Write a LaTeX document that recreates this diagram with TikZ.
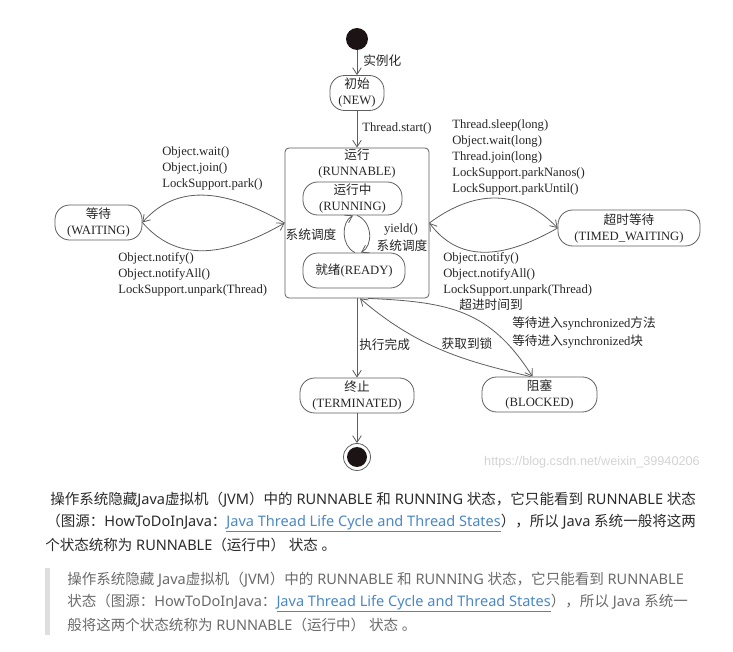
\documentclass[tikz,border=0pt]{standalone}
\usepackage{fontspec}
\setmainfont{Liberation Serif}
\newfontfamily\cjk{Noto Sans CJK SC}
\newfontfamily\capsans{Noto Sans}
\newfontfamily\wmfont{Liberation Sans}
\usetikzlibrary{arrows.meta,calc}
\newcommand\zh[1]{{\cjk #1}}
\definecolor{ln}{HTML}{5E5E5E}
\definecolor{tx}{HTML}{262626}
\definecolor{linkc}{HTML}{4A88C8}
\definecolor{capc}{HTML}{2B2B2B}
\definecolor{quotec}{HTML}{6B6B6B}
\definecolor{barc}{HTML}{DEDEDE}
\definecolor{dot}{HTML}{1C1414}
\tikzset{
  sz/.style 2 args={minimum width=#1*0.75pt, minimum height=#2*0.75pt},
  state/.style={draw=ln, line width=0.6pt, rounded corners=11pt, align=center, inner sep=0pt},
  arr/.style={draw=ln, line width=0.6pt, -{Straight Barb[length=5pt,width=6.5pt]}},
  lbl/.style={inner sep=0pt, align=left},
  capline/.style={anchor=west, inner sep=0pt, font=\capsans\fontsize{10.9}{13}\selectfont}
}
\begin{document}
\begin{tikzpicture}[x=0.75pt,y=-0.75pt,
  font=\fontsize{9.5}{12}\selectfont, text=tx]
\fill[white] (0,0) rectangle (733,652);
\useasboundingbox (0,0) rectangle (733,652);

% states
\node[circle, fill=dot, minimum size=22*0.75pt, inner sep=0pt] (start) at (357,39) {};
\node[state, sz={54}{35}] (new) at (357,93) {\zh{初始}\\(NEW)};
\node[draw=ln, line width=0.6pt, rounded corners=3pt, sz={144}{150}, inner sep=0pt] (runnable) at (357,223) {};
\node[lbl, align=center] (runlbl) at (357,164) {\zh{运行}\\(RUNNABLE)};
\node[state, sz={99}{33}] (running) at (352.5,198.5) {\zh{运行中}\\(RUNNING)};
\node[state, sz={102}{35}] (ready) at (354,270.5) {\zh{就绪}(READY)};
\node[state, sz={87}{35}] (waiting) at (98.5,222.5) {\zh{等待}\\(WAITING)};
\node[state, sz={142}{36}] (timed) at (629,228) {\zh{超时等待}\\(TIMED\_WAITING)};
\node[state, sz={114}{35}] (term) at (357,395.5) {\zh{终止}\\(TERMINATED)};
\node[state, sz={115}{35}] (blocked) at (539.5,394.5) {\zh{阻塞}\\(BLOCKED)};
\node[circle, draw=ln, line width=0.6pt, minimum size=27*0.75pt, inner sep=0pt] (endo) at (357,457) {};
\node[circle, fill=dot, minimum size=20*0.75pt, inner sep=0pt] (endi) at (357,457) {};

% connectors
\draw[arr] (start) -- (new);
\draw[arr] (new) -- (runnable);
\draw[arr] (runnable) -- (term);
\draw[arr] (term) -- (endo);
\draw[arr] (runnable.west) .. controls (220,186) and (175,186) .. (waiting.east);
\draw[arr] (waiting.east) .. controls (175,260) and (220,260) .. (runnable.west);
\draw[arr] (runnable.east) .. controls (475,189) and (520,189) .. (timed.west);
\draw[arr] (timed.west) .. controls (500,261) and (458,261) .. (runnable.east);
\draw[arr] ($(ready.north)+(1,0)$) .. controls (341,246) and (341,222) .. ($(running.south)+(0.5,0)$);
\draw[arr] ($(running.south)+(4.5,0)$) .. controls (373,222) and (373,246) .. ($(ready.north)+(7,0)$);
\draw[arr] ($(runnable.south)+(11,0)$) .. controls (450,302) and (490,310) .. ($(blocked.north)+(-7,0)$);
\draw[arr] ($(blocked.north)+(-9,0)$) .. controls (470,362) and (420,350) .. ($(runnable.south)+(3,0)$);

% labels
\node[lbl, anchor=west] (linst) at (363,61) {\zh{实例化}};
\node[lbl, anchor=west] (lstart) at (362,128) {Thread.start()};
\node[lbl, anchor=west] (lwait) at (162,168) {Object.wait()\\Object.join()\\LockSupport.park()};
\node[lbl, anchor=west] (lnotify) at (118,274.5) {Object.notify()\\Object.notifyAll()\\LockSupport.unpark(Thread)};
\node[lbl, anchor=west] (lsleep) at (452,157.5) {Thread.sleep(long)\\Object.wait(long)\\Thread.join(long)\\LockSupport.parkNanos()\\LockSupport.parkUntil()};
\node[lbl, anchor=west] (ltnotify) at (443,274.5) {Object.notify()\\Object.notifyAll()\\LockSupport.unpark(Thread)};
\node[lbl] (lsched1) at (311,235) {\zh{系统调度}};
\node[lbl] (lyield) at (401,229) {yield()};
\node[lbl] (lsched2) at (402,246) {\zh{系统调度}};
\node[lbl, anchor=west] (ldone) at (359,345) {\zh{执行完成}};
\node[lbl] (ltimeout) at (491,305) {\zh{超进时间到}};
\node[lbl, anchor=west, font=\fontsize{9.5}{14}\selectfont] (lsync) at (512,332.5) {\zh{等待进入}synchronized\zh{方法}\\\zh{等待进入}synchronized\zh{块}};
\node[lbl] (llock) at (467,344) {\zh{获取到锁}};

% watermark
\node[inner sep=0pt, anchor=east, text=black!17, font=\wmfont\fontsize{9.5}{11}\selectfont] (wm) at (700,462) {https://blog.csdn.net/weixin\_39940206};

% caption
\node[capline, text=capc] (c1) at (50,500) {\zh{操作系统隐藏}Java\zh{虚拟机（}JVM\zh{）中的} RUNNABLE \zh{和} RUNNING \zh{状态，它只能看到} RUNNABLE \zh{状态}};
\node[capline, text=capc] (c2) at (46,523) {\zh{（图源：}HowToDoInJava\zh{：}\textcolor{linkc}{\underline{Java Thread Life Cycle and Thread States}}\zh{），所以} Java \zh{系统一般将这两}};
\node[capline, text=capc] (c3) at (45,545) {\zh{个状态统称为} RUNNABLE\zh{（运行中）} \zh{状态} \zh{。}};

% quote
\fill[barc] (45,568) rectangle (50,635);
\node[capline, text=quotec] (q1) at (67,580) {\zh{操作系统隐藏} Java\zh{虚拟机（}JVM\zh{）中的} RUNNABLE \zh{和} RUNNING \zh{状态，它只能看到} RUNNABLE};
\node[capline, text=quotec] (q2) at (67,603) {\zh{状态（图源：}HowToDoInJava\zh{：}\textcolor{linkc}{\underline{Java Thread Life Cycle and Thread States}}\zh{），所以} Java \zh{系统一}};
\node[capline, text=quotec] (q3) at (67,625) {\zh{般将这两个状态统称为} RUNNABLE\zh{（运行中）} \zh{状态} \zh{。}};
\end{tikzpicture}
\end{document}
